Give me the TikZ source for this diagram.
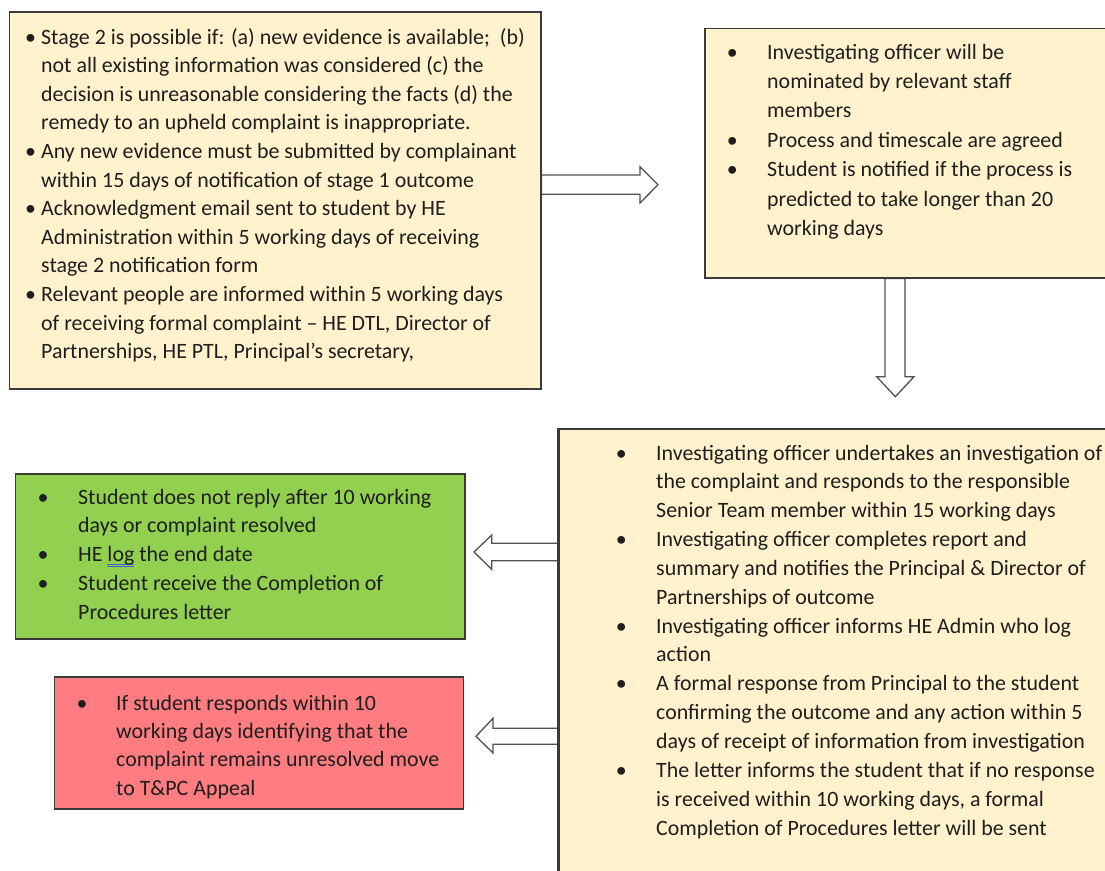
\documentclass[tikz,border=0pt]{standalone}
\usepackage{fontspec}
\setmainfont{Carlito}
\usetikzlibrary{calc}

\definecolor{cream}{HTML}{FFF2CC}
\definecolor{leaf}{HTML}{92D050}
\definecolor{rose}{HTML}{FF7C80}
\definecolor{boxedge}{HTML}{3A3A3A}
\definecolor{arrowedge}{HTML}{505050}
\definecolor{inktext}{HTML}{1E1E1E}
\definecolor{gramblue}{HTML}{4060D0}

% bullet hung to the left of the current line, #1 = distance from bullet centre to text
\newcommand{\bu}[1]{\llap{\makebox[0pt][c]{\textbullet}\hspace{#1pt}}}
% word with a blue double underline
\newsavebox{\wordbox}
\newcommand{\markword}[1]{\sbox{\wordbox}{#1}\rlap{\textcolor{gramblue}{\rule[-3pt]{\wd\wordbox}{0.7pt}\kern-\wd\wordbox\rule[-5pt]{\wd\wordbox}{0.7pt}}}#1}

\tikzset{
  box/.style={draw=boxedge, line width=1.5pt, anchor=north west, inner sep=0pt},
  txt/.style={anchor=base west, inner sep=0pt, text=inktext,
              font=\fontsize{21.9}{#1}\selectfont},
  blockarrow/.style={draw=arrowedge, fill=white, line width=1.3pt, line join=miter}
}

\begin{document}
\begin{tikzpicture}[x=1pt, y=1pt]
\useasboundingbox (0,0) rectangle (1105,-870);
\clip (0,0) rectangle (1105,-870);

% ---- boxes ----
\node[box, fill=cream, minimum width=531.5pt, minimum height=377pt] (stageA) at (8.5,-11) {};
\node[box, fill=cream, minimum width=420pt, minimum height=249.5pt] (stageB) at (704,-27.5) {};
\node[box, fill=cream, minimum width=560pt, minimum height=470pt] (stageC) at (558,-428) {};
\node[box, fill=leaf, minimum width=449.5pt, minimum height=165pt] (resolved) at (14.5,-473) {};
\node[box, fill=rose, minimum width=409pt, minimum height=132pt] (appeal) at (53.5,-676) {};

% ---- texts ----
\node[txt=28.6] (stageAtext) at (41,-44) {\begin{tabular}[t]{@{}l@{}}
\bu{10.5}Stage 2 is possible if: (a) new evidence is available;\ \ (b)\\
not all existing information was considered (c) the\\
decision is unreasonable considering the facts (d) the\\
remedy to an upheld complaint is inappropriate.\\
\bu{10.5}Any new evidence must be submitted by complainant\\
within 15 days of notification of stage 1 outcome\\
\bu{10.5}Acknowledgment email sent to student by HE\\
Administration within 5 working days of receiving\\
stage 2 notification form\\
\bu{10.5}Relevant people are informed within 5 working days\\
of receiving formal complaint – HE DTL, Director of\\
Partnerships, HE PTL, Principal’s secretary,
\end{tabular}};

\node[txt=29.4] (stageBtext) at (767,-59) {\begin{tabular}[t]{@{}l@{}}
\bu{35}Investigating officer will be\\
nominated by relevant staff\\
members\\
\bu{35}Process and timescale are agreed\\
\bu{35}Student is notified if the process is\\
predicted to take longer than 20\\
working days
\end{tabular}};

\node[txt=28.85] (stageCtext) at (656,-460) {\begin{tabular}[t]{@{}l@{}}
\bu{35}Investigating officer undertakes an investigation of\\
the complaint and responds to the responsible\\
Senior Team member within 15 working days\\
\bu{35}Investigating officer completes report and\\
summary and notifies the Principal \& Director of\\
Partnerships of outcome\\
\bu{35}Investigating officer informs HE Admin who log\\
action\\
\bu{35}A formal response from Principal to the student\\
confirming the outcome and any action within 5\\
days of receipt of information from investigation\\
\bu{35}The letter informs the student that if no response\\
is received within 10 working days, a formal\\
Completion of Procedures letter will be sent
\end{tabular}};

\node[txt=28.9] (resolvedtext) at (78,-504) {\begin{tabular}[t]{@{}l@{}}
\bu{35}Student does not reply after 10 working\\
days or complaint resolved\\
\bu{35}HE \markword{log} the end date\\
\bu{35}Student receive the Completion of\\
Procedures letter
\end{tabular}};

\node[txt=28.4] (appealtext) at (116,-710) {\begin{tabular}[t]{@{}l@{}}
\bu{34}If student responds within 10\\
working days identifying that the\\
complaint remains unresolved move\\
to T\&PC Appeal
\end{tabular}};

% ---- block arrows ----
\draw[blockarrow] (stageA.east |- 0,-175) -- (640,-175) -- (640,-166.7) -- (658,-184.7)
  -- (640,-203) -- (640,-194.3) -- (stageA.east |- 0,-194.3) -- cycle;
\draw[blockarrow] (stageB.south -| 885,0) -- (885,-376.7) -- (876.7,-376.7) -- (895.3,-396.7)
  -- (914,-376.7) -- (905,-376.7) -- (stageB.south -| 905,0) -- cycle;
\draw[blockarrow] (stageC.west |- 0,-543.3) -- (491.7,-543.3) -- (491.7,-535) -- (474,-552)
  -- (491.7,-569.3) -- (491.7,-560.7) -- (stageC.west |- 0,-560.7) -- cycle;
\draw[blockarrow] (stageC.west |- 0,-728.3) -- (493,-728.3) -- (493,-718.3) -- (476,-736.3)
  -- (493,-753) -- (493,-744.3) -- (stageC.west |- 0,-744.3) -- cycle;

% box outlines redrawn over the arrow ends
\draw[draw=boxedge, line width=1.5pt] (stageA.north east) -- (stageA.south east);
\draw[draw=boxedge, line width=1.5pt] (stageB.south west) -- (stageB.south east);
\draw[draw=boxedge, line width=1.5pt] (stageC.north west) -- (stageC.south west);
\end{tikzpicture}
\end{document}
